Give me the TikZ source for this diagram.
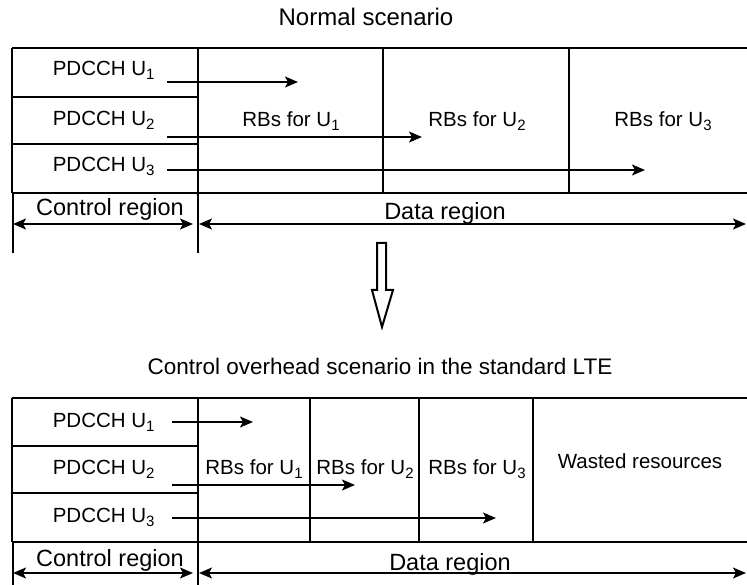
\documentclass[tikz,border=0pt]{standalone}
\usepackage{fontspec}
\setmainfont{Liberation Sans}
\usetikzlibrary{arrows.meta}
\newcommand{\usub}[1]{\raisebox{-4pt}{\fontsize{15}{18}\selectfont#1}}
\begin{document}
\begin{tikzpicture}[x=1pt,y=-1pt,line width=1.6pt,
        >={Stealth[length=13pt,width=11pt,inset=3pt]},
        lbl/.style={anchor=base,inner sep=0pt,font=\fontsize{20.5}{25}\selectfont},
        reg/.style={anchor=base,inner sep=0pt,font=\fontsize{23.5}{28}\selectfont},
        ttl/.style={anchor=base,inner sep=0pt,font=\fontsize{22.5}{27}\selectfont}]
            \useasboundingbox (0,0) rectangle (747,585);
            % normal scenario
            \node[ttl,font=\fontsize{24}{29}\selectfont] (ttop) at (366,26) {Normal scenario};
            \draw (12,48) -- (752,48) (12,193) -- (752,193);
            \draw (12,97) -- (198,97) (12,144) -- (198,144);
            \draw (12,48) -- (12,193) (198,48) -- (198,253) (13,193) -- (13,253);
            \foreach \x in {383,569}
                \draw (\x,48) -- (\x,193);
            \foreach \i/\y in {1/76,2/126,3/172}
                \node[lbl,anchor=base west] (pa\i) at (52,\y) {PDCCH U\usub{\i}};
            \foreach \i/\x in {1/291,2/477,3/663}
                \node[lbl] (ra\i) at (\x,127) {RBs for U\usub{\i}};
            \foreach \i/\y/\e in {1/82/298,2/137/422,3/170/645}{
                \coordinate (sa\i) at (167,\y);
                \coordinate (ea\i) at (\e,\y);
                \path[draw,->] (sa\i) -- (ea\i);
            }
            \coordinate (ca1) at (13,224);
            \coordinate (ca2) at (193,224);
            \coordinate (da1) at (199,224);
            \coordinate (da2) at (746,224);
            \path[draw,<->] (ca1) -- (ca2);
            \path[draw,<->] (da1) -- (da2);
            \node[reg] (cr1) at (110,216) {Control region};
            \node[reg] (dr1) at (445,220) {Data region};
            % hollow arrow
            \draw[line width=2pt] (377,243) -- (386,243) -- (386,290) -- (393,290) -- (382,327) -- (372,290) -- (377,290) -- cycle;
            % standard LTE
            \node[ttl] (tbot) at (380,374) {Control overhead scenario in the standard LTE};
            \draw (12,398) -- (752,398) (12,542) -- (752,542);
            \draw (12,446) -- (198,446) (12,493) -- (198,493);
            \draw (12,398) -- (12,542) (198,398) -- (198,585) (13,542) -- (13,585);
            \foreach \x in {310,419,533}
                \draw (\x,398) -- (\x,542);
            \foreach \i/\y in {1/427,2/474,3/522}
                \node[lbl,anchor=base west] (pb\i) at (52,\y) {PDCCH U\usub{\i}};
            \foreach \i/\x in {1/254,2/365,3/477}
                \node[lbl] (rb\i) at (\x,474) {RBs for U\usub{\i}};
            \node[lbl] (waste) at (640,468) {Wasted resources};
            \foreach \i/\y/\e in {1/422/253,2/485/355,3/518/496}{
                \coordinate (sb\i) at (172,\y);
                \coordinate (eb\i) at (\e,\y);
                \path[draw,->] (sb\i) -- (eb\i);
            }
            \coordinate (cb1) at (13,573);
            \coordinate (cb2) at (193,573);
            \coordinate (db1) at (199,573);
            \coordinate (db2) at (746,573);
            \path[draw,<->] (cb1) -- (cb2);
            \path[draw,<->] (db1) -- (db2);
            \node[reg] (cr2) at (110,566) {Control region};
            \node[reg] (dr2) at (450,570) {Data region};
\end{tikzpicture}
\end{document}
